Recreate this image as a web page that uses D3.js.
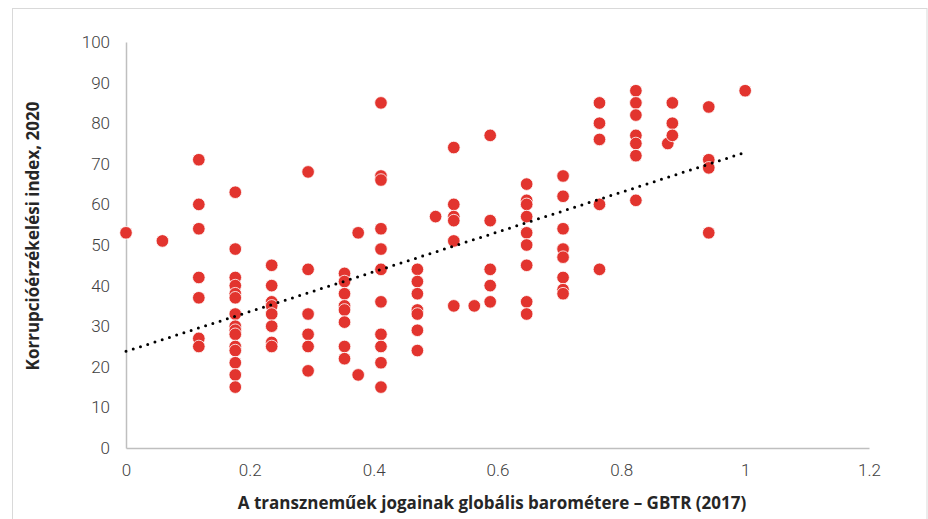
<!DOCTYPE html>
<html>
<head>
<meta charset="utf-8">
<script src="https://cdn.jsdelivr.net/npm/d3@7"></script>
<style>
  html, body { margin: 0; padding: 0; background: #fff; }
  svg { display: block; }
</style>
</head>
<body>
<svg id="chart" width="928" height="519"></svg>
<script>
// GBTR (2017) scores and Corruption Perceptions Index 2020
const gbtr = [
  0, 0.0588,
  0.1176, 0.1176, 0.1176, 0.1176, 0.1176, 0.1176, 0.1176,
  0.1765, 0.1765, 0.1765, 0.1765, 0.1765, 0.1765, 0.1765, 0.1765, 0.1765, 0.1765, 0.1765, 0.1765, 0.1765, 0.1765, 0.1765,
  0.2353, 0.2353, 0.2353, 0.2353, 0.2353, 0.2353, 0.2353, 0.2353,
  0.2941, 0.2941, 0.2941, 0.2941, 0.2941, 0.2941,
  0.3529, 0.3529, 0.3529, 0.3529, 0.3529, 0.3529, 0.3529, 0.3529,
  0.375, 0.375,
  0.4118, 0.4118, 0.4118, 0.4118, 0.4118, 0.4118, 0.4118, 0.4118, 0.4118, 0.4118, 0.4118,
  0.4706, 0.4706, 0.4706, 0.4706, 0.4706, 0.4706, 0.4706,
  0.5,
  0.5294, 0.5294, 0.5294, 0.5294, 0.5294, 0.5294,
  0.5625,
  0.5882, 0.5882, 0.5882, 0.5882, 0.5882,
  0.6471, 0.6471, 0.6471, 0.6471, 0.6471, 0.6471, 0.6471, 0.6471, 0.6471,
  0.7059, 0.7059, 0.7059, 0.7059, 0.7059, 0.7059, 0.7059, 0.7059,
  0.7647, 0.7647, 0.7647, 0.7647, 0.7647,
  0.8235, 0.8235, 0.8235, 0.8235, 0.8235, 0.8235, 0.8235,
  0.875,
  0.8824, 0.8824, 0.8824,
  0.9412, 0.9412, 0.9412, 0.9412,
  1.0
];
const cpi = [
  53, 51,
  71, 60, 54, 42, 37, 27, 25,
  63, 49, 42, 40, 38, 37, 33, 30, 29, 28, 25, 24, 21, 18, 15,
  45, 40, 36, 35, 33, 30, 26, 25,
  68, 44, 33, 28, 25, 19,
  43, 41, 38, 35, 34, 31, 25, 22,
  53, 18,
  85, 67, 66, 54, 49, 44, 36, 28, 25, 21, 15,
  44, 41, 38, 34, 33, 29, 24,
  57,
  74, 60, 57, 56, 51, 35,
  35,
  77, 56, 44, 40, 36,
  65, 61, 60, 57, 53, 50, 45, 36, 33,
  67, 62, 54, 49, 47, 42, 39, 38,
  85, 80, 76, 60, 44,
  88, 85, 82, 77, 75, 72, 61,
  75,
  85, 80, 77,
  84, 71, 69, 53,
  88
];
const xTicks = [0, 0.2, 0.4, 0.6, 0.8, 1, 1.2];
const yTicks = [0, 10, 20, 30, 40, 50, 60, 70, 80, 90, 100];
const trendX = [0, 1];
const trendY = [23.8, 72.8];
const xTitle = "A transzneműek jogainak globális barométere – GBTR (2017)";
const yTitle = "Korrupcióérzékelési index, 2020";

const svg = d3.select("#chart");
const W = 928, H = 519;

// frame
svg.append("rect")
  .attr("x", 12.5).attr("y", 8.5)
  .attr("width", W - 13.5).attr("height", H)
  .attr("fill", "#fff").attr("stroke", "#d9d9d9").attr("stroke-width", 1);

const x = d3.scaleLinear().domain([0, 1.2]).range([126, 869]);
const y = d3.scaleLinear().domain([0, 100]).range([448, 42]);

const fontTick = "Roboto, 'Open Sans', sans-serif";

// y axis
const yAxis = svg.append("g")
  .attr("transform", `translate(${x(0)},0)`)
  .call(d3.axisLeft(y).tickValues(yTicks).tickSize(0).tickPadding(16).tickFormat(d3.format("d")));
yAxis.select(".domain").attr("stroke", "#bfbfbf").attr("stroke-width", 1.5);
yAxis.selectAll("text")
  .attr("font-family", fontTick).attr("font-size", 17).attr("font-weight", 300)
  .attr("fill", "#404040");

// x axis
const xAxis = svg.append("g")
  .attr("transform", `translate(0,${y(0)})`)
  .call(d3.axisBottom(x).tickValues(xTicks).tickSize(0).tickPadding(16)
    .tickFormat(d => String(+d.toFixed(1))));
xAxis.select(".domain").attr("stroke", "#bfbfbf").attr("stroke-width", 1.5);
xAxis.selectAll("text")
  .attr("font-family", fontTick).attr("font-size", 17).attr("font-weight", 300)
  .attr("fill", "#404040");

// points
const pts = gbtr.map((g, i) => ({ g, c: cpi[i] }));
svg.append("g").selectAll("circle")
  .data(pts).join("circle")
  .attr("cx", d => x(d.g))
  .attr("cy", d => y(d.c))
  .attr("r", 6.3)
  .attr("fill", "#e2342e")
  .attr("stroke", "#ffffff")
  .attr("stroke-width", 0.8);

// trend line (dotted)
const line = d3.line().x(d => x(d[0])).y(d => y(d[1]));
svg.append("path")
  .datum(trendX.map((v, i) => [v, trendY[i]]))
  .attr("d", line)
  .attr("fill", "none")
  .attr("stroke", "#000")
  .attr("stroke-width", 3)
  .attr("stroke-linecap", "round")
  .attr("stroke-dasharray", "0 7.6");

// titles
svg.append("text")
  .attr("x", 492).attr("y", 509)
  .attr("text-anchor", "middle")
  .attr("font-family", "'Open Sans', sans-serif")
  .attr("font-weight", 700).attr("font-size", 17)
  .attr("fill", "#262626")
  .text(xTitle);

svg.append("text")
  .attr("transform", "translate(39,236) rotate(-90)")
  .attr("text-anchor", "middle")
  .attr("font-family", "'Open Sans', sans-serif")
  .attr("font-weight", 700).attr("font-size", 17)
  .attr("fill", "#262626")
  .text(yTitle);
</script>
</body>
</html>
